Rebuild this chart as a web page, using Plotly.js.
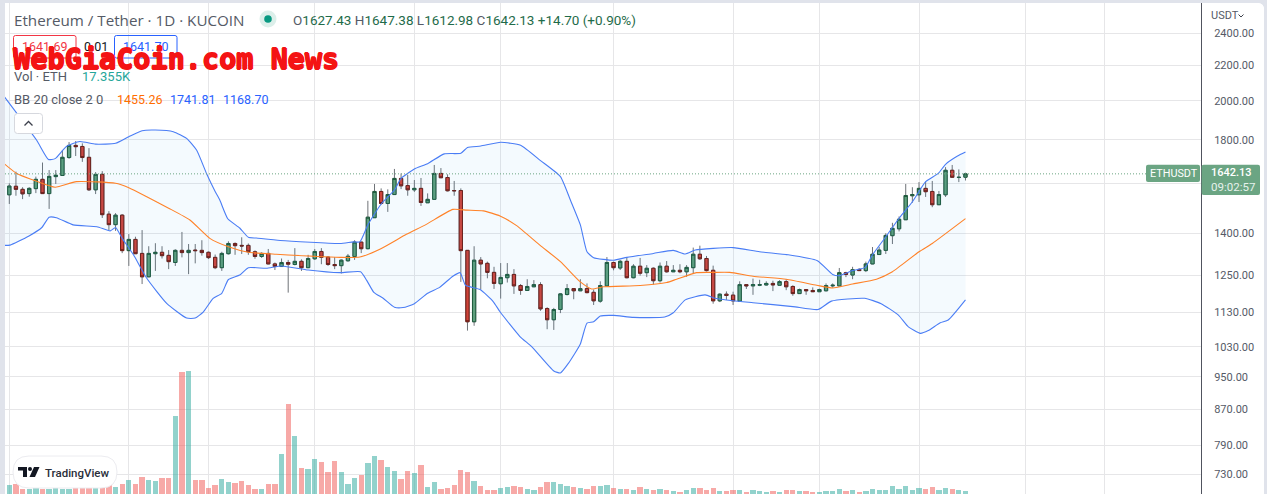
<!DOCTYPE html>
<html>
<head>
<meta charset="utf-8">
<script src="https://cdn.plot.ly/plotly-3.0.1.min.js"></script>
<style>
html,body{margin:0;padding:0;background:#e0e3eb;width:1267px;height:494px;overflow:hidden}
#chart{position:absolute;left:5px;top:3px;width:1259px;height:491px;background:#fff;border-top-right-radius:6px;overflow:hidden}
</style>
</head>
<body>
<div id="chart"></div>
<script>
// ---------- data ----------
const opens = [
1552,1588,1575,1557,1578,1618,1557,1630,1635,1716,
1773,1768,1717,1573,1640,1473,1432,1469,1335,1376,
1325,1244,1324,1329,1318,1293,1336,1328,1337,1336,
1329,1311,1275,1324,1361,1354,1354,1331,1314,1325,
1288,1279,1293,1286,1297,1275,1306,1332,1312,1286,
1282,1299,1314,1366,1342,1459,1566,1516,1553,1622,
1591,1573,1579,1519,1533,1644,1626,1570,1570,1336,
1102,1301,1290,1259,1221,1241,1252,1215,1199,1211,
1218,1142,1108,1139,1186,1205,1198,1205,1193,1165,
1214,1293,1274,1297,1241,1280,1258,1273,1231,1280,
1261,1266,1261,1275,1322,1307,1266,1166,1187,1184,
1165,1218,1214,1216,1217,1222,1216,1228,1212,1189,
1202,1199,1195,1198,1214,1214,1258,1250,1269,1265,
1288,1321,1336,1390,1416,1451,1548,1552,1579,1566,
1511,1552,1658,1626,1627.43];
const highs = [
1601,1652,1584,1584,1630,1693,1659,1659,1751,1789,
1794,1783,1760,1650,1654,1485,1477,1473,1396,1386,
1411,1351,1362,1351,1337,1340,1404,1359,1359,1373,
1332,1321,1331,1369,1365,1384,1361,1336,1329,1341,
1293,1307,1302,1344,1304,1320,1341,1344,1314,1312,
1304,1323,1373,1367,1527,1598,1579,1575,1664,1644,
1637,1615,1624,1558,1682,1668,1640,1611,1579,1336,
1351,1312,1296,1278,1291,1291,1270,1220,1236,1233,
1226,1146,1144,1190,1220,1207,1236,1222,1202,1229,
1312,1296,1302,1311,1287,1309,1284,1276,1293,1298,
1284,1287,1284,1346,1353,1316,1282,1190,1196,1195,
1229,1220,1238,1234,1229,1231,1233,1236,1216,1205,
1203,1209,1205,1222,1222,1274,1261,1278,1273,1296,
1348,1349,1399,1439,1464,1598,1584,1606,1608,1611,
1568,1672,1682,1662,1647.38];
const lows = [
1514,1548,1534,1544,1559,1557,1494,1598,1635,1710,
1723,1696,1568,1555,1458,1410,1408,1326,1281,1323,
1220,1243,1264,1307,1270,1281,1311,1253,1290,1317,
1305,1270,1264,1321,1320,1323,1320,1306,1309,1287,
1267,1278,1192,1283,1264,1274,1302,1287,1281,1270,
1255,1296,1302,1326,1340,1459,1511,1482,1552,1576,
1548,1564,1506,1519,1533,1625,1566,1548,1227,1076,
1090,1202,1239,1204,1173,1225,1188,1185,1198,1210,
1135,1080,1078,1128,1183,1171,1197,1190,1153,1160,
1214,1266,1267,1239,1239,1248,1243,1218,1225,1258,
1260,1256,1244,1256,1302,1262,1157,1162,1169,1153,
1165,1204,1185,1213,1215,1197,1215,1200,1182,1189,
1185,1194,1194,1196,1208,1214,1243,1236,1264,1260,
1287,1320,1323,1359,1406,1451,1519,1522,1543,1501,
1511,1543,1625,1606,1612.98];
const closes = [
1589,1575,1556,1579,1618,1557,1631,1636,1717,1773,
1767,1716,1573,1640,1471,1432,1469,1335,1376,1324,
1244,1325,1329,1317,1296,1336,1328,1336,1335,1328,
1310,1275,1325,1361,1353,1352,1331,1314,1325,1288,
1279,1293,1287,1297,1275,1307,1332,1311,1286,1282,
1301,1315,1366,1342,1461,1566,1516,1553,1622,1590,
1573,1579,1520,1533,1644,1625,1569,1569,1335,1102,
1301,1288,1259,1222,1242,1252,1214,1199,1212,1218,
1141,1108,1139,1188,1205,1198,1205,1192,1166,1215,
1293,1275,1297,1241,1280,1256,1273,1231,1280,1261,
1266,1261,1276,1322,1306,1265,1166,1187,1183,1166,
1218,1214,1218,1218,1222,1217,1228,1211,1189,1202,
1198,1195,1202,1215,1216,1258,1252,1268,1265,1288,
1322,1337,1391,1418,1453,1549,1553,1579,1565,1511,
1553,1658,1627,1627,1642.13];
// volume in thousands of ETH
const volumes = [
29,31.5,21,22,24,22,22,23,22,22,
24,23,23,24,26,28,25,31,39,31,
44,39,37,42,42,162,247,249,39,39,
23,29,41,35,33,37,29,21,21,31,
31,89,185,124,62,60,79,73,54,75,
54,31,42,48,71,85,77,64,56,41,
56,52,68,25,35,21,23,29,58,54,
37,27,19,19,23,25,27,25,21,19,
25,35,35,31,27,25,23,21,27,27,
29,23,21,21,19,25,21,19,21,19,
17,15,19,23,23,19,23,17,17,19,
19,15,19,17,15,17,15,19,19,17,
17,15,15,17,17,21,17,19,15,17,
21,19,19,27,21,27,19,23,21,25,
19,23,21,19,17.355];

const upperX = [-0.7,4.1,5.9,6.9,8.6,10.6,13,16,18,20,22,24.7,26.7,28.2,29.7,31,31.7,32.9,34.7,36,37.2,40.8,49.8,51.8,52.8,54,56,58,59,61,63,65.5,68,69,71,74,77,80,83,84.5,86,87,88,91,93,97,100,101.8,103.3,106,109,113,117.3,121.7,124,125,127,128.9,130,132,134,136,138,139.9,141,142.8,144];
const upperY = [2020,1799,1707,1711,1768,1792,1779,1783,1815,1845,1848,1840,1807,1751,1644,1566,1530,1455,1419,1384,1381,1372,1361,1367,1367,1431,1514,1572,1622,1664,1688,1733,1736,1763,1770,1788,1774,1702,1630,1530,1431,1331,1310,1301,1311,1325,1336,1323,1337,1343,1346,1331,1320,1299,1252,1248,1265,1276,1320,1386,1457,1523,1608,1644,1685,1723,1741.81];
const basisX = [-0.7,1.1,3.9,6.9,10.1,16,18,20.7,24,27.2,30.2,33,36,40.2,49.8,52.8,55.8,59.8,62.8,66.8,68.9,71.4,73.9,76.4,79.9,83,86,87.7,89.5,95,99,100.5,103.5,106,108.5,112,117,121.6,124,127,130.6,133,137,139,144];
const basisY = [1686,1644,1612,1584,1608,1601,1582,1544,1497,1450,1380,1349,1329,1322,1311,1312,1340,1395,1433,1492,1489,1486,1466,1428,1355,1296,1227,1204,1211,1215,1225,1236,1258,1259,1259,1246,1236,1216,1207,1220,1236,1261,1331,1361,1455.26];
const lowerX = [-0.7,0.1,2.9,4.9,6,7.1,9.6,13.2,15.2,16,17,18.7,20.7,23.7,26.7,28,29.2,30.7,32,33,34.7,36,38.7,41,45,49.8,52.9,53.8,54.9,56.3,58,59.3,61,63,64.8,66.8,67.9,68.7,70.9,72.9,73.9,76.9,78.7,82,83,84.2,86,87,88,89,91,94,98.7,100,101.8,104.8,106.3,109,112,118,121.8,123.8,128.8,131.3,133.9,135.4,137.2,138.4,140.2,141.4,144];
const lowerY = [1354,1355,1388,1421,1461,1459,1431,1424,1408,1421,1380,1320,1239,1158,1113,1113,1131,1174,1190,1235,1250,1275,1273,1281,1267,1258,1261,1233,1193,1174,1146,1145,1157,1190,1209,1246,1258,1216,1202,1163,1132,1059,1030,965,960,985,1038,1098,1102,1119,1121,1115,1116,1129,1169,1185,1174,1166,1160,1148,1139,1165,1174,1157,1122,1087,1068,1076,1099,1107,1168.70];

const priceTicks = [2400,2200,2000,1800,1600,1400,1250,1130,1030,950,870,790,730];
const priceTickLabels = ["2400.00","2200.00","2000.00","1800.00","1600.00","1400.00","1250.00","1130.00","1030.00","950.00","870.00","790.00","730.00"];
const timeGrid = [0,18,30,46,61,74,91,109,122,137,153,165];
const lastPrice = 1642.13;

// ---------- helpers ----------
const days = opens.map((_, i) => i);
const bodyHigh = opens.map((o, i) => Math.max(o, closes[i]));
const bodyLow = opens.map((o, i) => Math.min(o, closes[i]));
const volumeColors = opens.map((o, i) => closes[i] >= o ? 'rgba(38,166,154,0.5)' : 'rgba(239,83,80,0.5)');

const PL = 5, PW = 1196, PT = 3, PH = 491;
const fx = x => (x - PL) / PW;
const fy = y => 1 - (y - PT) / PH;
const rr = (x0, y0, x1, y1, r) => {
  const P = (x, y) => fx(x) + ',' + fy(y);
  return 'M' + P(x0 + r, y0) + ' L' + P(x1 - r, y0) + ' Q' + P(x1, y0) + ' ' + P(x1, y0 + r) +
    ' L' + P(x1, y1 - r) + ' Q' + P(x1, y1) + ' ' + P(x1 - r, y1) +
    ' L' + P(x0 + r, y1) + ' Q' + P(x0, y1) + ' ' + P(x0, y1 - r) +
    ' L' + P(x0, y0 + r) + ' Q' + P(x0, y0) + ' ' + P(x0 + r, y0) + ' Z';
};
const poly = pts => 'M' + pts.map(p => fx(p[0]) + ',' + fy(p[1])).join(' L') + ' Z';
const pathShape = (path, fill, line, w) => ({type:'path', xref:'paper', yref:'paper', layer:'above', path,
  fillcolor: fill, line:{color: line || 'rgba(0,0,0,0)', width: w === undefined ? 1 : w}});
const circ = (cx, cy, r, fill) => ({type:'circle', xref:'paper', yref:'paper', layer:'above',
  x0: fx(cx - r), x1: fx(cx + r), y0: fy(cy + r), y1: fy(cy - r), fillcolor: fill, line:{width:0}});
const chevron = (pts, w) => ({type:'path', xref:'paper', yref:'paper', layer:'above',
  path:'M' + pts.map(p => fx(p[0]) + ',' + fy(p[1])).join(' L'), line:{color:'#3c404c', width:w}});
const TXT = 'Roboto, sans-serif';
const note = (x, y, text, size, color, extra) => Object.assign({xref:'paper', yref:'paper', x: fx(x - 1), y: fy(y),
  text, showarrow:false, xanchor:'left', yanchor:'middle', borderpad:0,
  font:{family:TXT, size, color}}, extra || {});
const G = s => '<span style="color:#1f6b4a">' + s + '</span>';
const L = s => '<span style="color:#555a66">' + s + '</span>';
const THICK = '1px 0 0 #f41414, -0.5px 0 0 #f41414, 0 1px 0 #f41414, 0 -1px 0 #f41414';

// ---------- traces ----------
const bandLine = {color:'#4a7df5', width:1.1, shape:'spline', smoothing:0.5};
const traces = [
  {type:'bar', x:days, y:volumes, xaxis:'x', yaxis:'y2', width:0.8, marker:{color:volumeColors, line:{width:0}}, hoverinfo:'skip'},
  {type:'candlestick', x:days, open:opens, high:highs, low:lows, close:closes, whiskerwidth:0,
    increasing:{line:{color:'#6f7378', width:1}, fillcolor:'rgba(0,0,0,0)'},
    decreasing:{line:{color:'#6f7378', width:1}, fillcolor:'rgba(0,0,0,0)'}},
  {type:'candlestick', x:days, open:opens, high:bodyHigh, low:bodyLow, close:closes, whiskerwidth:0,
    increasing:{line:{color:'#1e5a3c', width:1}, fillcolor:'#5e9f7c'},
    decreasing:{line:{color:'#6e1c14', width:1}, fillcolor:'#d0443a'}},
  {type:'scatter', mode:'lines', x:lowerX, y:lowerY, line:bandLine, hoverinfo:'skip'},
  {type:'scatter', mode:'lines', x:upperX, y:upperY, line:bandLine, fill:'tonexty',
    fillcolor:'rgba(33,150,243,0.05)', hoverinfo:'skip'},
  {type:'scatter', mode:'lines', x:basisX, y:basisY, line:{color:'#ff8228', width:1.1, shape:'spline', smoothing:0.5}, hoverinfo:'skip'}
];

// ---------- layout ----------
const shapes = [
  {type:'line', xref:'paper', yref:'y', x0:0, x1:fx(1146), y0:lastPrice, y1:lastPrice, layer:'above',
    line:{color:'#6ba583', width:1, dash:'1px,2px'}},
  pathShape(rr(1146, 164.7, 1200, 182, 2), '#6ba583'),
  pathShape(rr(1201.6, 164.7, 1260, 195, 2), '#6ba583'),
  circ(268, 19, 8.5, '#dcefea'),
  circ(268, 19, 3.8, '#089981'),
  pathShape(rr(13.5, 35.5, 76, 58, 2), 'rgba(255,255,255,0)', '#f23645', 1),
  pathShape(rr(114.5, 35.5, 177, 58, 2), 'rgba(255,255,255,0)', '#2962ff', 1),
  pathShape(rr(14.5, 113.5, 42.5, 133.5, 3), '#ffffff', '#d6d8de', 1),
  chevron([[24.5,125.5],[28.5,121.5],[32.5,125.5]], 1.3),
  chevron([[1238.5,14.5],[1241,17],[1243.5,14.5]], 1),
  pathShape(rr(13, 456, 117, 488, 16), '#ffffff', '#ececf0', 1),
  pathShape(poly([[18,467],[27,467],[27,477],[23,477],[23,470.5],[18,470.5]]), '#131722'),
  circ(30, 469, 2, '#131722'),
  pathShape(poly([[34,467],[39.5,467],[35,477],[29.5,477]]), '#131722')
];

const annotations = [
  note(14, 19.5, 'Ethereum / Tether · 1D · KUCOIN', 15, '#555a66', {font:{family:'"Open Sans", sans-serif', size:15.2, color:'#555a66'}}),
  note(293, 20, L('O') + G('1627.43') + ' ' + L('H') + G('1647.38') + ' ' + L('L') + G('1612.98') + ' ' + L('C') + G('1642.13') + ' ' + G('+14.70 (+0.90%)'), 13.5, '#1f6b4a'),
  note(22, 47, '1641.69', 12.5, '#f23645'),
  note(84, 47, '0.01', 12.5, '#131722'),
  note(123, 47, '1641.70', 12.5, '#2962ff'),
  note(14, 76, 'Vol · ETH', 13, '#555a66'),
  note(82, 76, '17.355K', 13, '#26a69a'),
  note(14, 99.5, 'BB 20 close 2 0', 13, '#555a66'),
  note(117, 99.5, '1455.26', 12.5, '#ff6d00'),
  note(170, 99.5, '1741.81', 12.5, '#2962ff'),
  note(223, 99.5, '1168.70', 12.5, '#2962ff'),
  note(13, 59.5, 'WebGiaCoin.com News', 28, '#f41414', {font:{family:'"DejaVu Sans Mono", monospace', size:28.5, color:'#f41414', weight:700, shadow:THICK}}),
  note(1211, 16, 'USDT', 11, '#555a66'),
  note(1150, 173.5, 'ETHUSDT', 10.8, '#ffffff'),
  note(1211, 173, '1642.13', 11, '#ffffff', {font:{family:TXT, size:11, color:'#ffffff', weight:500}}),
  note(1211, 186.5, '09:02:57', 11.5, '#e6f2ec'),
  note(45, 472.5, 'TradingView', 11.5, '#2a2e39', {font:{family:TXT, size:11.5, color:'#2a2e39', weight:500}})
];

const layout = {
  width:1259, height:491,
  margin:{l:0, r:63, t:0, b:0, pad:0},
  paper_bgcolor:'#ffffff', plot_bgcolor:'#ffffff',
  showlegend:false, boxgap:0.3, boxmode:'overlay', bargap:0,
  hovermode:false, dragmode:false,
  xaxis:{type:'linear', range:[-0.648, 179.47], tickmode:'array', tickvals:timeGrid, showticklabels:false,
    ticks:'', showgrid:true, gridcolor:'#e6e6e8', gridwidth:1, zeroline:false, showline:false,
    rangeslider:{visible:false}},
  yaxis:{type:'log', side:'right', range:[2.84044, 3.41552], tickmode:'array', tickvals:priceTicks, ticktext:priceTickLabels,
    showgrid:true, gridcolor:'#e6e6e8', gridwidth:1, zeroline:false, showline:true, linecolor:'#50535e', linewidth:1,
    ticks:'outside', ticklen:10, tickcolor:'rgba(0,0,0,0)', tickfont:{family:TXT, size:11, color:'#555a66'}},
  yaxis2:{type:'linear', overlaying:'y', side:'left', range:[11.58, 959.2], visible:false, showgrid:false, zeroline:false},
  shapes, annotations
};

Plotly.newPlot('chart', traces, layout, {staticPlot:true, displayModeBar:false});
</script>
</body>
</html>
